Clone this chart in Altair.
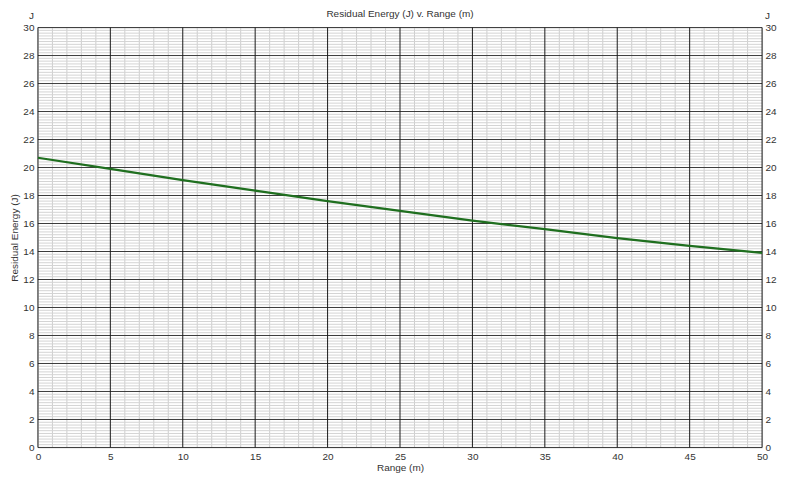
import altair as alt
import pandas as pd
import numpy as np

range_m = [0, 5, 10, 15, 20, 25, 30, 35, 40, 45, 50]
energy_j = [20.7, 19.9, 19.1, 18.35, 17.6, 16.9, 16.2, 15.6, 14.95, 14.4, 13.9]

x_major = [0, 5, 10, 15, 20, 25, 30, 35, 40, 45, 50]
y_major = list(range(0, 31, 2))
x_minor = [v for v in range(0, 51) if v % 5 != 0]
y_minor = [round(v, 1) for v in np.arange(0, 30.01, 0.2) if abs(v / 2 - round(v / 2)) > 1e-6]

FONT = "Liberation Sans"
xs = alt.Scale(domain=[0, 50], nice=False, zero=False)
ys = alt.Scale(domain=[0, 30], nice=False, zero=False)

x_axis = alt.Axis(values=x_major, grid=False, ticks=False, domain=False, labelFlush=False,
                  labelPadding=4, labelFontSize=10, labelFont=FONT, labelColor="#333",
                  titleFont=FONT, titleFontSize=10, titleFontWeight="normal",
                  titleColor="#333", titlePadding=1)

df = pd.DataFrame({"range": range_m, "energy": energy_j})

vminor = alt.Chart(pd.DataFrame({"x": x_minor})).mark_rule(color="#cdcdcd", strokeWidth=1).encode(
    x=alt.X("x:Q", scale=xs, title="Range (m)", axis=x_axis))
hminor = alt.Chart(pd.DataFrame({"y": y_minor})).mark_rule(color="#d4d4d4", strokeWidth=1).encode(
    y=alt.Y("y:Q", scale=ys, axis=None))
hmajor = alt.Chart(pd.DataFrame({"y": y_major})).mark_rule(color="#3a3a3a", strokeWidth=1).encode(
    y=alt.Y("y:Q", scale=ys, axis=None))
vmajor = alt.Chart(pd.DataFrame({"x": x_major})).mark_rule(color="#1a1a1a", strokeWidth=1).encode(
    x=alt.X("x:Q", scale=xs, title="Range (m)", axis=x_axis))

line_left = alt.Chart(df).mark_line(color="#1f6f1f", strokeWidth=2.2).encode(
    x=alt.X("range:Q", scale=xs, title="Range (m)", axis=x_axis),
    y=alt.Y("energy:Q", scale=ys, title="Residual Energy (J)",
            axis=alt.Axis(orient="left", values=y_major, grid=False, ticks=False, domain=False,
                          labelPadding=4, labelFontSize=10, labelFont=FONT, labelColor="#333",
                          titleFont=FONT, titleFontSize=10, titleFontWeight="normal",
                          titleColor="#333", titlePadding=3)),
)
line_right = alt.Chart(df).mark_line(opacity=0).encode(
    x=alt.X("range:Q", scale=xs, title="Range (m)", axis=x_axis),
    y=alt.Y("energy:Q", scale=ys, title=None,
            axis=alt.Axis(orient="right", values=y_major, grid=False, ticks=False, domain=False,
                          labelPadding=3, labelFontSize=10, labelFont=FONT, labelColor="#333")),
)

unit_left = alt.Chart(pd.DataFrame({"t": ["J"]})).mark_text(
    font=FONT, fontSize=10, color="#333", align="right", baseline="middle").encode(
    text="t:N", x=alt.value(-4), y=alt.value(-12))
unit_right = alt.Chart(pd.DataFrame({"t": ["J"]})).mark_text(
    font=FONT, fontSize=10, color="#333", align="left", baseline="middle").encode(
    text="t:N", x=alt.value(729), y=alt.value(-12))
title = alt.Chart(pd.DataFrame({"t": ["Residual Energy (J) v. Range (m)"]})).mark_text(
    font=FONT, fontSize=10, color="#333", align="center", baseline="middle").encode(
    text="t:N", x=alt.value(363), y=alt.value(-14))

chart = alt.layer(
    vminor, hminor, hmajor, vmajor, line_left, line_right, unit_left, unit_right, title
).resolve_axis(y="independent").properties(
    width=726, height=421,
    autosize=alt.AutoSizeParams(type="none"),
    padding={"left": 30, "top": 19, "right": 30, "bottom": 25},
).configure_view(stroke="#111", strokeWidth=1.5).configure(background="white")

chart.save("out.html", embed_options={"renderer": "svg", "actions": False})
